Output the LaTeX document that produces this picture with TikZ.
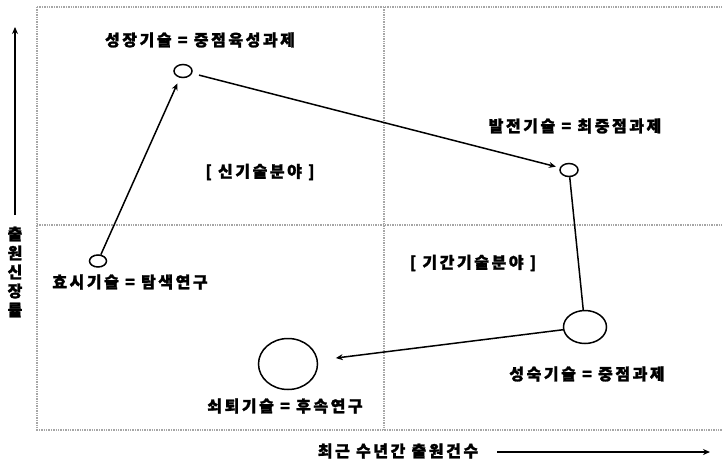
\documentclass[tikz,border=0pt]{standalone}
\usepackage{fontspec}
\newfontfamily\kr{Noto Sans CJK KR}[LetterSpace=16,BoldFeatures={FakeBold=1.5}]
\usetikzlibrary{shapes.geometric,arrows.meta}
\begin{document}
\begin{tikzpicture}[x=1pt,y=-1pt,
  lbl/.style={font=\kr\bfseries\fontsize{16}{17}\selectfont, inner sep=0pt},
  dot/.style={draw, ellipse, line width=1.5pt, inner sep=0pt},
  grid/.style={draw=gray!70, line width=1.4pt, densely dotted},
  link/.style={line width=1.5pt},
  arr/.style={link, -{Stealth[length=7pt,width=6pt]}}]
\useasboundingbox (0,0) rectangle (723,464);
% frame and quadrants
\draw[grid] (37,7) -- (726,7);
\draw[grid] (37,7) -- (37,430) -- (726,430);
\draw[grid] (37,225) -- (726,225);
\draw[grid] (384,7) -- (384,430);
% nodes
\node[dot, minimum width=18pt, minimum height=13pt] (grow) at (183,71) {};
\node[dot, minimum width=18pt, minimum height=13pt] (dev) at (569,170) {};
\node[dot, minimum width=17pt, minimum height=12pt] (init) at (98,261) {};
\node[dot, minimum width=43pt, minimum height=33pt] (mat) at (585,327) {};
\node[dot, minimum width=59pt, minimum height=51pt] (dec) at (288,364) {};
% labels
\node[lbl] (lgrow) at (200,40) {성장기술 = 중점육성과제};
\node[lbl] (ldev) at (575,126) {발전기술 = 최중점과제};
\node[lbl] (linit) at (130,282) {효시기술 = 탐색연구};
\node[lbl] (lmat) at (587,374) {성숙기술 = 중점과제};
\node[lbl] (ldec) at (285,406) {쇠퇴기술 = 후속연구};
\node[lbl] (fnew) at (260,172) {[ 신기술분야 ]};
\node[lbl] (fkey) at (473,263) {[ 기간기술분야 ]};
% connectors
\draw[arr, shorten >=6pt] (init) -- (grow);
\draw[arr, shorten <=7pt, shorten >=4pt] (grow) -- (dev);
\draw[link] (dev) -- (mat);
\draw[arr, shorten >=18pt] (mat) -- (dec);
% axes
\node[lbl, align=center] (ylab) at (15,272) {출\\[2pt]원\\[2pt]신\\[2pt]장\\[2pt]률};
\coordinate (ybot) at (15,215);
\coordinate (ytop) at (15,27);
\draw[arr, line width=1.8pt] (ybot) -- (ytop);
\node[lbl] (xlab) at (398,451) {최근 수년간 출원건수};
\coordinate (xl) at (497,452);
\coordinate (xr) at (710,452);
\draw[arr, line width=1.8pt] (xl) -- (xr);
\end{tikzpicture}
\end{document}
